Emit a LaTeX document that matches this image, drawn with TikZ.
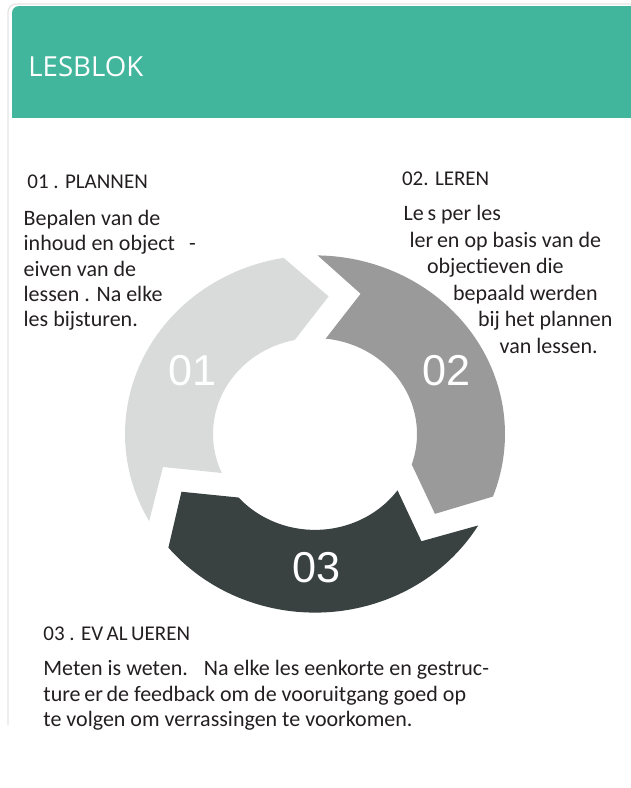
\documentclass[tikz,border=0pt]{standalone}
\usepackage{fontspec}
\setmainfont{Carlito}
\newfontfamily\headfont{Open Sans}
\newfontfamily\numfont{Liberation Sans}
\definecolor{lesgreen}{HTML}{42B59D}
\definecolor{segone}{HTML}{D9DBDA}
\definecolor{segtwo}{HTML}{9A9A9A}
\definecolor{segthree}{HTML}{394241}
\definecolor{ink}{HTML}{231F20}
\definecolor{cardline}{HTML}{E4E4E4}
\tikzset{body/.style={anchor=base west, inner sep=0pt, text=ink, font=\fontsize{11}{13}\selectfont},
	steptitle/.style={body, font=\fontsize{10.5}{12}\selectfont},
	bignum/.style={inner sep=0pt, text=white, font=\numfont\fontsize{21.6}{24}\selectfont}}

\begin{document}
\begin{tikzpicture}[x=0.5pt, y=-0.5pt]
	\useasboundingbox (0,0) rectangle (631,788);
	% card and header
	\draw[cardline, line width=0.6pt, rounded corners=4pt] (8,725) -- (8,4) -- (640,4);
	\begin{scope}
		\clip (0,0) rectangle (631,117);
		\fill[lesgreen, rounded corners=3.5pt] (12,6) rectangle (660,160);
	\end{scope}
	\node[anchor=base west, inner sep=0pt, text=white, font=\headfont\fontsize{13.8}{16}\selectfont] (head) at (28,76) {LESBLOK};
	% ring of three arrows
	\begin{scope}[shift={(315,434)}, yscale=-0.94]
		\def\ro{190} \def\ri{102} \def\rt{147} \def\rn{156}
		\fill[segone] (209.2:\ro) arc[start angle=209.2, end angle=99.5, radius=\ro] -- (84.7:\rt)
			-- (101.5:\ri) arc[start angle=101.5, end angle=204, radius=\ri] -- (193:\rn) -- cycle;
		\fill[segtwo] ({209.2-120}:\ro) arc[start angle={209.2-120}, end angle={99.5-120}, radius=\ro] -- ({84.7-120}:\rt)
			-- ({101.5-120}:\ri) arc[start angle={101.5-120}, end angle={204-120}, radius=\ri] -- ({193-120}:\rn) -- cycle;
		\fill[segthree] ({209.2-240}:\ro) arc[start angle={209.2-240}, end angle={99.5-240}, radius=\ro] -- ({84.7-240}:\rt)
			-- ({101.5-240}:\ri) arc[start angle={101.5-240}, end angle={204-240}, radius=\ri] -- ({193-240}:\rn) -- cycle;
	\end{scope}
	\node[bignum] (num1) at (192.5,370.5) {01};
	\node[bignum] (num2) at (446.5,370.5) {02};
	\node[bignum] (num3) at (316.5,568) {03};
	% 01 plannen
	\node[steptitle] (plan) at (27,188.3) {01 . PLANNEN};
	\node[body] (plan1) at (23.3,225) {Bepalen van de};
	\node[body] (plan2) at (23.3,250.5) {inhoud en object\hspace{7pt}-};
	\node[body] (plan3) at (23.3,276) {eiven van de};
	\node[body] (plan4) at (23.3,301) {lessen . Na elke};
	\node[body] (plan5) at (23.3,326) {les bijsturen.};
	% 02 leren
	\node[steptitle] (leer) at (401.7,185) {02. LEREN};
	\node[body] (leer1) at (403.3,220) {Le\,s per les};
	\node[body] (leer2) at (409.3,247.3) {ler\,en op basis van de};
	\node[body] (leer3) at (426.7,273.5) {objectieven die};
	\node[body] (leer4) at (452.7,300) {bepaald werden};
	\node[body] (leer5) at (477.7,326.7) {bij het plannen};
	\node[body] (leer6) at (499.3,353.3) {van lessen.};
	% 03 evalueren
	\node[steptitle] (eval) at (43,640) {03 . EV\,AL\,UEREN};
	\node[body] (eval1) at (43,675.5) {Meten is weten.\hspace{8pt}Na elke les eenkorte en gestruc-};
	\node[body] (eval2) at (43,701) {ture\,er\,de feedback om de vooruitgang goed op};
	\node[body] (eval3) at (43,726.5) {te volgen om verrassingen te voorkomen.};
\end{tikzpicture}
\end{document}
